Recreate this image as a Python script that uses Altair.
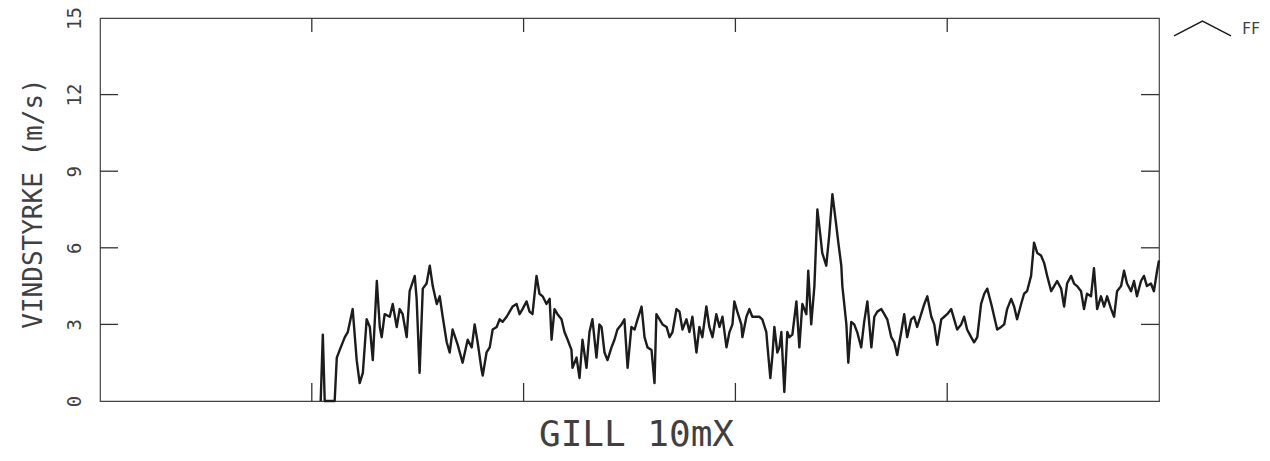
import altair as alt
import pandas as pd

# time (plot units, 0..5) and wind speed FF (m/s) in segments
t_a = [1.042,1.052,1.061,1.108,1.118,1.132,1.156,1.170,1.193,1.212,1.226,1.241,1.259,1.274,1.288,1.307,1.321,1.330,1.344,1.368,1.382,1.401,1.415,1.429,1.448,1.462,1.486,1.495,1.509,1.524,1.542,1.557,1.571,1.590,1.604,1.618,1.637,1.651,1.665]
ff_a = [0,2.6,0,0,1.7,2.0,2.5,2.7,3.6,1.6,0.7,1.1,3.2,2.9,1.6,4.7,2.9,2.5,3.4,3.3,3.8,2.9,3.6,3.4,2.5,4.3,4.9,4.0,1.1,4.4,4.6,5.3,4.5,3.8,4.1,3.3,2.3,1.9,2.8]

t_b = [1.689,1.712,1.736,1.755,1.769,1.783,1.802,1.807,1.825,1.840,1.854,1.873,1.887,1.901,1.920,1.934,1.948,1.967,1.981,1.995,2.014,2.028,2.042,2.061,2.075,2.090,2.108,2.123,2.132,2.146,2.160,2.179,2.193,2.208,2.226,2.231,2.250,2.264,2.278,2.297,2.311,2.325,2.344,2.358]
ff_b = [2.2,1.5,2.4,2.1,3.0,2.3,1.2,1.0,1.9,2.1,2.8,2.9,3.2,3.1,3.3,3.5,3.7,3.8,3.4,3.6,3.9,3.5,3.4,4.9,4.2,4.1,3.8,4.0,2.4,3.6,3.4,3.2,2.7,2.4,2.0,1.3,1.7,0.9,2.4,1.3,2.7,3.2,1.7,3.0]

t_c = [2.368,2.382,2.396,2.415,2.429,2.443,2.462,2.476,2.491,2.509,2.524,2.538,2.557,2.571,2.585,2.604,2.618,2.627,2.642,2.656,2.675,2.689,2.703,2.722,2.736,2.750,2.769,2.783,2.797,2.816,2.830,2.844,2.863,2.877,2.892,2.910,2.925,2.939,2.958,2.972,2.986,2.995]
ff_c = [2.9,1.9,1.6,2.1,2.4,2.8,3.0,3.2,1.3,2.9,2.8,3.2,3.7,2.5,2.1,2.0,0.7,3.4,3.2,3.0,2.9,2.5,2.7,3.6,3.5,2.8,3.2,2.7,3.3,1.9,2.9,2.5,3.7,2.9,2.5,3.4,2.9,3.3,2.1,2.7,3.0,3.9]

t_d = [3.009,3.028,3.033,3.052,3.066,3.080,3.099,3.113,3.127,3.146,3.151,3.165,3.175,3.184,3.198,3.208,3.217,3.231,3.245,3.255,3.269,3.288,3.302,3.316,3.335,3.344,3.358,3.373,3.387,3.401,3.410,3.429,3.443,3.458,3.476,3.486,3.500,3.505,3.524,3.533,3.547,3.561,3.575,3.594,3.608,3.623,3.642,3.656,3.670]
ff_d = [3.5,3.0,2.5,3.3,3.6,3.3,3.3,3.3,3.2,2.7,2.2,0.9,1.8,2.9,1.9,2.1,2.7,0.35,2.7,2.5,2.6,3.9,2.1,3.8,3.4,5.1,3.0,4.5,7.5,6.5,5.8,5.3,6.5,8.1,6.9,6.2,5.3,4.5,3.0,1.5,3.1,3.0,2.7,2.1,3.1,3.9,2.1,3.3,3.5]

t_e = [3.689,3.703,3.717,3.736,3.750,3.764,3.783,3.797,3.811,3.830,3.844,3.858,3.877,3.892,3.906,3.925,3.939,3.953,3.972,3.986,4.000,4.019,4.033,4.047,4.066,4.080,4.094,4.113,4.127,4.142,4.160,4.175,4.189,4.208,4.222,4.236,4.255,4.269,4.283,4.302,4.316]
ff_e = [3.6,3.4,3.2,2.5,2.3,1.8,2.7,3.4,2.5,3.2,3.3,2.9,3.4,3.8,4.1,3.3,3.0,2.2,3.2,3.3,3.4,3.6,3.2,2.8,3.0,3.3,2.8,2.5,2.3,2.5,3.8,4.2,4.4,3.8,3.3,2.8,2.9,3.0,3.6,4.0,3.7]

t_f = [4.330,4.349,4.363,4.377,4.396,4.410,4.425,4.443,4.458,4.472,4.491,4.505,4.519,4.538,4.552,4.566,4.585,4.599,4.613,4.632,4.646,4.660,4.679,4.693,4.708,4.726,4.741,4.755,4.774,4.788,4.802,4.821,4.835,4.849,4.868,4.882,4.896,4.915,4.929,4.943,4.962,4.976,4.991,5.000]
ff_f = [3.2,3.8,4.2,4.3,4.9,6.2,5.8,5.7,5.4,4.9,4.3,4.5,4.7,4.4,3.7,4.6,4.9,4.6,4.5,4.3,3.6,4.2,4.1,5.2,3.6,4.1,3.7,4.1,3.6,3.3,4.3,4.5,5.1,4.6,4.3,4.7,4.1,4.7,4.9,4.5,4.6,4.3,5.1,5.5]

y_label_values = [0, 3, 6, 9, 12, 15]
y_tick_values = [3, 6, 9, 12]
x_tick_values = [1, 2, 3, 4]
series_name = "FF"
y_title = "VINDSTYRKE (m/s)"
x_title = "GILL 10mX"

t_all = t_a + t_b + t_c + t_d + t_e + t_f
ff_all = ff_a + ff_b + ff_c + ff_d + ff_e + ff_f
df = pd.DataFrame({"t": t_all, "ff": ff_all, "series": [series_name] * len(t_all)})
ytk = pd.DataFrame({"v": y_tick_values})
xtk = pd.DataFrame({"v": x_tick_values})

W, H = 1059, 383
INK = "#1c1c1c"
TXT = "#404040"
FONT = "DejaVu Sans Mono"

xs = alt.Scale(domain=[0, 5], nice=False, zero=False)
ys = alt.Scale(domain=[0, 15], nice=False, zero=False)

x_axis = alt.Axis(
    title=x_title, labels=False, ticks=False, domain=False, grid=False,
    titleFont=FONT, titleFontSize=36, titleFontWeight="normal", titleColor=TXT,
    titleX=536, titleY=44, titleBaseline="alphabetic", titleAlign="center",
)
y_axis = alt.Axis(
    title=y_title, values=y_label_values, ticks=False, tickSize=0, domain=False, grid=False,
    labelAngle=270, labelAlign="center", labelBaseline="bottom", labelPadding=16,
    labelFont=FONT, labelFontSize=19, labelColor=TXT, labelFlush=False, labelOverlap=False,
    titleFont=FONT, titleFontSize=26, titleFontWeight="normal", titleColor=TXT,
    titleAngle=270, titleX=-67, titleY=185, titleAlign="center", titleBaseline="middle",
)

line = alt.Chart(df).mark_line(strokeWidth=2.4, strokeJoin="round").encode(
    x=alt.X("t:Q", scale=xs, axis=x_axis),
    y=alt.Y("ff:Q", scale=ys, axis=y_axis),
    color=alt.Color(
        "series:N",
        scale=alt.Scale(range=[INK]),
        legend=alt.Legend(
            title=None, orient="none", legendX=1073, legendY=-19, padding=0,
            symbolType="M-1,0.26L0,-0.26L1,0.26", symbolSize=3249,
            symbolStrokeWidth=1.5, symbolFillColor="transparent",
            labelFont=FONT, labelFontSize=15, labelColor=TXT, labelOffset=10,
        ),
    ),
)

rule_style = dict(color="#333333", strokeWidth=1.3)
left_ticks = alt.Chart(ytk).mark_rule(**rule_style).encode(
    y=alt.Y("v:Q", scale=ys, axis=y_axis), x=alt.value(0), x2=alt.value(18))
right_ticks = alt.Chart(ytk).mark_rule(**rule_style).encode(
    y=alt.Y("v:Q", scale=ys, axis=y_axis), x=alt.value(W - 18), x2=alt.value(W))
bottom_ticks = alt.Chart(xtk).mark_rule(**rule_style).encode(
    x=alt.X("v:Q", scale=xs, axis=x_axis), y=alt.value(H - 18), y2=alt.value(H))
top_ticks = alt.Chart(xtk).mark_rule(**rule_style).encode(
    x=alt.X("v:Q", scale=xs, axis=x_axis), y=alt.value(0), y2=alt.value(14))

chart = alt.layer(line, left_ticks, right_ticks, bottom_ticks, top_ticks).properties(
    width=W, height=H,
    autosize=alt.AutoSizeParams(type="none"),
    padding={"left": 92, "top": 10, "right": 102, "bottom": 51},
    background="white",
).configure_view(stroke="#444444", strokeWidth=1.2)

chart.save("out.html", embed_options={"renderer": "svg", "actions": False})
